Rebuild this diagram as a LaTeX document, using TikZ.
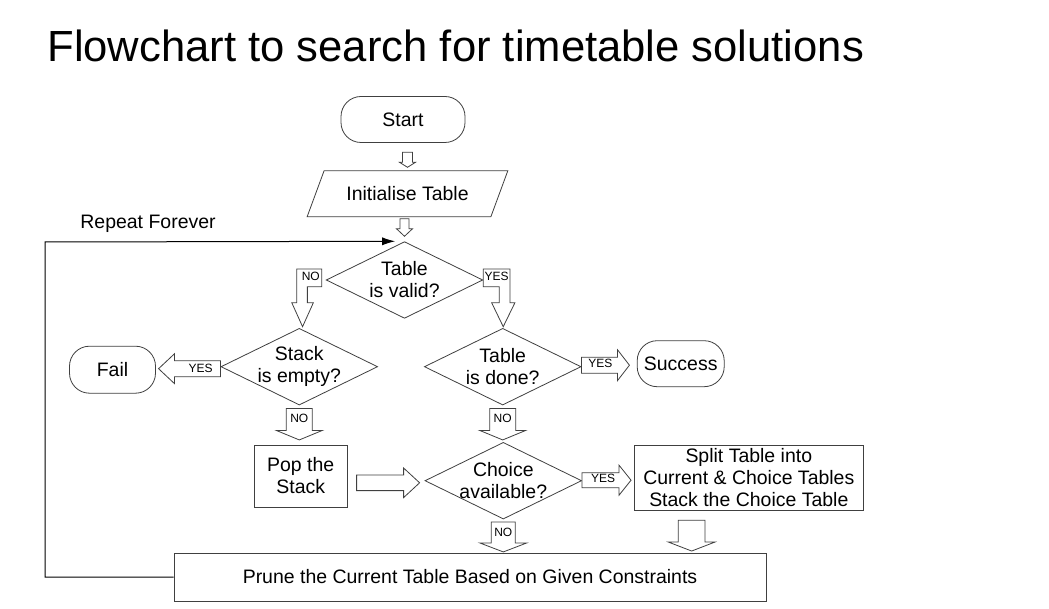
\documentclass[tikz,border=0pt]{standalone}
\usepackage{fontspec}
\setmainfont{Liberation Sans}
\usetikzlibrary{shapes.geometric,arrows.meta,calc}

\tikzstyle{terminal} = [rectangle, rounded corners=15pt, draw=black!75, 
minimum height=34.5pt, inner sep=0pt, font=\fontsize{14.6}{16.5}\selectfont]
\tikzstyle{io} = [trapezium, trapezium left angle=49, trapezium right angle=131, 
trapezium stretches=true, draw=black!75, minimum width=150.75pt, minimum height=34.5pt, 
inner sep=0pt, font=\fontsize{14.6}{16.5}\selectfont]
\tikzstyle{decision} = [diamond, draw=black!75, minimum width=117.5pt, 
minimum height=57.5pt, inner sep=0pt]
\tikzstyle{process} = [rectangle, draw=black!75, align=center, inner sep=0pt, 
font=\fontsize{14.6}{16.5}\selectfont]
\tikzstyle{txt} = [align=center, inner sep=0pt, font=\fontsize{14.6}{16.5}\selectfont]
\tikzstyle{yesno} = [inner sep=0pt, font=\fontsize{9}{10}\selectfont]
\tikzstyle{hollow} = [draw=black!75, fill=white, line width=0.6pt, line join=miter]
\tikzstyle{backline} = [draw, line width=0.75pt, -{Latex[length=9.75pt,width=6pt]}]

\begin{document}
\begin{tikzpicture}[x=0.75pt, y=-0.75pt, line width=0.6pt]
	\path[use as bounding box, fill=white] (0,0) rectangle (1049,609);
	%title
	\node[anchor=base west, inner sep=0pt, font=\fontsize{32.7}{38}\selectfont] (title) at (47,61.7) {Flowchart to search for timetable solutions};

	%nodes
	\node[terminal, minimum width=93pt] (start) at (403,119.5) {Start};
	\node[io] (init) at (407.5,193.7) {Initialise Table};
	\node[decision, label={[txt]center:Table\\is valid?}] (valid) at (404.5,280) {};
	\node[decision, label={[txt]center:Stack\\is empty?}] (stack) at (299.3,366.7) {};
	\node[decision, label={[txt]center:Table\\is done?}] (done) at (502.7,366.7) {};
	\node[terminal, minimum width=64.5pt, minimum height=35.25pt] (fail) at (112.5,369.7) {Fail};
	\node[terminal, minimum width=65.25pt] (success) at (680.7,363.7) {Success};
	\node[process, minimum width=69.75pt, minimum height=46.5pt] (pop) at (300.7,476) {Pop the\\Stack};
	\node[decision, label={[txt]center:Choice\\available?}] (choice) at (503.3,480.7) {};
	\node[process, minimum width=171.75pt, minimum height=48.2pt] (split) at (748.8,477.8) {Split Table into\\Current \& Choice Tables\\Stack the Choice Table};
	\node[process, minimum width=444pt, minimum height=36pt] (prune) at (470,577) {Prune the Current Table Based on Given Constraints};

	%repeat line
	\coordinate (corner) at (45,242);
	\node[txt, anchor=base west] (repeat) at (80,229) {Repeat Forever};
	\path[backline, shorten >=7pt] (prune.west) -| (corner) -- (valid.north);

	%block arrows
	\draw[hollow] (init.north) ++(0,-3) -- ++(-8,-5) -- ++(3,0) -- ++(0,-10) -- ++(10,0) -- ++(0,10) -- ++(3,0) -- cycle;
	\draw[hollow] (valid.north) ++(0,-5) -- ++(-8,-7.5) -- ++(3.5,0) -- ++(0,-10) -- ++(9,0) -- ++(0,10) -- ++(3.5,0) -- cycle;
	\draw[hollow] (valid.west) ++(-4,-11) -- ++(0,17.7) -- ++(-14.4,0) -- ++(0,16) -- ++(6,0) -- ++(-10.8,24) -- ++(-10.8,-24) -- ++(5,0) -- ++(0,-33.7) -- cycle;
	\node[yesno] (novalid) at ($(valid.west)+(-15,-4)$) {NO};
	\draw[hollow] (valid.east) ++(0,-11) -- ++(26.7,0) -- ++(0,33.7) -- ++(5,0) -- ++(-11.7,24) -- ++(-11.6,-24) -- ++(7.6,0) -- ++(0,-16) -- ++(-16,0) -- cycle;
	\node[yesno] (yesvalid) at ($(valid.east)+(13.5,-4)$) {YES};
	\draw[hollow] (stack.west) ++(0,-6) -- ++(-46,0) -- ++(0,-7) -- ++(-16,15) -- ++(16,15) -- ++(0,-7) -- ++(46,0) -- cycle;
	\node[yesno] (yesstack) at ($(stack.west)+(-20,2)$) {YES};
	\draw[hollow] (done.east) ++(0,-9.5) -- ++(36,0) -- ++(0,-7.5) -- ++(12,15.5) -- ++(-12,15.5) -- ++(0,-7.5) -- ++(-36,0) -- cycle;
	\node[yesno] (yesdone) at ($(done.east)+(19,-3)$) {YES};
	\draw[hollow] (stack.south) ++(-13,3) -- ++(26,0) -- ++(0,22) -- ++(10,0) -- ++(-23,9.5) -- ++(-23,-9.5) -- ++(10,0) -- cycle;
	\node[yesno] (nostack) at ($(stack.south)+(0,13)$) {NO};
	\draw[hollow] (done.south) ++(-13,3) -- ++(26,0) -- ++(0,22) -- ++(10,0) -- ++(-23,9.5) -- ++(-23,-9.5) -- ++(10,0) -- cycle;
	\node[yesno] (nodone) at ($(done.south)+(0,13)$) {NO};
	\draw[hollow] (pop.east) ++(9,-1) -- ++(47,0) -- ++(0,-7) -- ++(16,14.8) -- ++(-16,14.8) -- ++(0,-7) -- ++(-47,0) -- cycle;
	\draw[hollow] (choice.east) ++(0,-8) -- ++(37,0) -- ++(0,-7.5) -- ++(12,15) -- ++(-12,15) -- ++(0,-7.5) -- ++(-37,0) -- cycle;
	\node[yesno] (yeschoice) at ($(choice.east)+(21,-2)$) {YES};
	\draw[hollow] (choice.south) ++(-12,2.5) -- ++(24,0) -- ++(0,21) -- ++(11.5,0) -- ++(-23.5,9) -- ++(-23.5,-9) -- ++(11.5,0) -- cycle;
	\node[yesno] (nochoice) at ($(choice.south)+(0,13)$) {NO};
	\draw[hollow] (split.south) ++(-70.5,10) -- ++(26.7,0) -- ++(0,21.7) -- ++(10,0) -- ++(-23.35,9) -- ++(-23.35,-9) -- ++(10,0) -- cycle;
\end{tikzpicture}
\end{document}
